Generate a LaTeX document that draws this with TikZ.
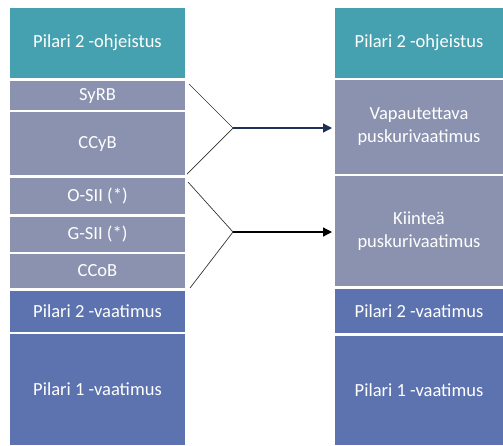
\documentclass[tikz,border=0pt]{standalone}
\usepackage{fontspec}
\setmainfont{Carlito}
\usetikzlibrary{arrows.meta}
\definecolor{tealc}{HTML}{45A1AF}
\definecolor{grayc}{HTML}{8A92B0}
\definecolor{bluec}{HTML}{5D73B0}
\definecolor{navyc}{HTML}{1F2F55}
\tikzset{
  blk/.style={fill=#1, draw=none, text=white, font=\fontsize{18.5}{23}\selectfont, align=center},
  conn/.style={draw=black!80, line width=0.7pt},
  arr/.style={line width=1.3pt, -{Triangle[length=9pt,width=9pt]}}
}
\begin{document}
\begin{tikzpicture}[x=1pt,y=-1pt]
\useasboundingbox (0,0) rectangle (503,445);
\fill[white] (0,0) rectangle (503,445);
% left column
\path[blk=tealc] (10,8) rectangle (185,78) node[midway] (l1) {Pilari 2 -ohjeistus};
\path[blk=grayc] (10,81) rectangle (185,110) node[midway] (l2) {SyRB};
\path[blk=grayc] (10,112) rectangle (185,175) node[midway] (l3) {CCyB};
\path[blk=grayc] (10,178) rectangle (185,214) node[midway] (l4) {O-SII (*)};
\path[blk=grayc] (10,217) rectangle (185,252) node[midway] (l5) {G-SII (*)};
\path[blk=grayc] (10,254) rectangle (185,288) node[midway] (l6) {CCoB};
\path[blk=bluec] (10,291) rectangle (185,332) node[midway] (l7) {Pilari 2 -vaatimus};
\path[blk=bluec] (10,334) rectangle (185,445) node[midway] (l8) {Pilari 1 -vaatimus};
% right column
\path[blk=tealc] (335,8) rectangle (503,78) node[midway] (r1) {Pilari 2 -ohjeistus};
\path[blk=grayc] (335,80) rectangle (503,174) node[midway] (r2) {Vapautettava\\puskurivaatimus};
\path[blk=grayc] (335,176) rectangle (503,286) node[midway] (r3) {Kiinteä\\puskurivaatimus};
\path[blk=bluec] (335,289) rectangle (503,333) node[midway] (r4) {Pilari 2 -vaatimus};
\path[blk=bluec] (335,336) rectangle (503,445) node[midway] (r5) {Pilari 1 -vaatimus};
% connectors
\coordinate (a1) at (189,84);
\coordinate (a2) at (187,174);
\coordinate (j1) at (233,128);
\coordinate (t1) at (332,128);
\coordinate (b1) at (188,182);
\coordinate (b2) at (190,288);
\coordinate (j2) at (233,232);
\coordinate (t2) at (332,232);
\draw[conn] (a1) -- (j1) -- (a2);
\draw[conn] (b1) -- (j2) -- (b2);
\draw[arr, navyc] (j1) -- (t1);
\draw[arr, black] (j2) -- (t2);
\end{tikzpicture}
\end{document}
